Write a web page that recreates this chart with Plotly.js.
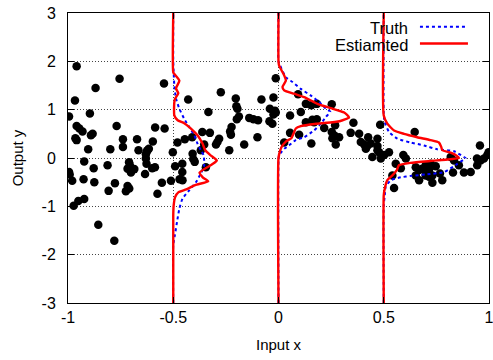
<!DOCTYPE html>
<html><head><meta charset="utf-8">
<script src="https://cdn.plot.ly/plotly-3.0.1.min.js"></script>
<style>html,body{margin:0;padding:0;background:#fff}#chart{width:493px;height:360px}</style>
</head><body><div id="chart"></div>
<script>
// Scatter samples
const pointsX = [-0.959,-0.755,-0.869,-0.544,-0.967,-0.429,-0.995,-0.896,-0.959,-0.946,-0.931,-0.769,-0.586,-0.541,-0.965,-0.959,-0.891,-0.883,-0.739,-0.672,-0.597,-0.480,-0.445,-0.410,-0.362,-0.353,-0.904,-0.799,-0.739,-0.665,-0.622,-0.625,-0.616,-0.630,-0.502,-0.408,-0.369,-0.923,-0.995,-0.992,-0.980,-0.878,-0.812,-0.710,-0.706,-0.717,-0.685,-0.701,-0.630,-0.627,-0.634,-0.600,-0.587,-0.491,-0.457,-0.405,-0.398,-0.457,-0.470,-0.456,-0.511,-0.554,-0.926,-0.875,-0.777,-0.807,-0.717,-0.725,-0.709,-0.575,-0.923,-0.951,-0.973,-0.856,-0.780,
 -0.013,-0.274,-0.203,-0.081,-0.024,-0.200,-0.195,-0.333,-0.041,-0.017,-0.013,-0.024,-0.188,-0.198,-0.139,-0.119,-0.097,-0.043,-0.029,-0.223,-0.230,-0.226,-0.326,-0.282,-0.290,-0.297,-0.100,-0.163,-0.234,0.093,0.130,0.156,0.182,0.253,0.055,0.106,0.161,0.182,0.169,0.130,0.217,0.269,0.253,0.264,0.288,0.256,0.055,0.098,0.027,0.156,0.272,-0.345,
 0.356,0.483,0.647,0.343,0.383,0.426,0.470,0.391,0.407,0.422,0.438,0.470,0.415,0.957,0.470,0.446,0.486,0.502,0.525,0.478,0.593,0.605,0.557,0.581,0.541,0.549,0.652,0.668,0.683,0.699,0.715,0.699,0.715,0.731,0.652,0.668,0.731,0.767,0.778,0.723,0.747,0.818,0.834,0.857,0.829,0.881,0.913,0.944,0.960,0.976,0.992,0.998,0.943];
const pointsY = [1.90,1.64,1.45,1.54,1.19,1.21,0.86,0.92,0.66,0.61,0.55,0.66,0.63,0.61,0.41,0.37,0.47,0.50,0.39,0.39,0.34,0.32,0.39,0.43,0.54,0.28,0.18,0.18,0.23,0.16,0.16,0.14,0.19,0.08,0.12,0.09,0.16,-0.07,-0.29,-0.34,-0.47,-0.21,-0.15,-0.09,-0.15,-0.22,-0.23,-0.30,-0.01,-0.12,-0.33,-0.21,-0.19,-0.17,-0.12,-0.02,-0.08,-0.29,-0.44,-0.46,-0.47,-0.51,-0.44,-0.50,-0.52,-0.68,-0.58,-0.69,-0.63,-0.74,-0.85,-0.89,-0.99,-1.38,-1.71,
 1.65,1.36,1.23,1.21,1.25,1.07,1.02,0.95,1.02,0.98,0.94,0.90,0.86,0.80,0.83,0.80,0.78,0.76,0.71,0.64,0.55,0.48,0.52,0.40,0.33,0.28,0.43,0.28,0.16,1.32,1.12,1.09,1.12,1.11,0.88,0.95,0.79,0.80,0.74,0.74,0.62,0.68,0.54,0.47,0.43,0.41,0.52,0.48,0.32,0.30,0.28,-0.19,
 0.73,0.69,0.54,0.52,0.50,0.43,0.40,0.33,0.28,0.25,0.30,0.25,0.19,0.26,0.16,0.02,-0.01,0.06,0.12,0.12,0.06,-0.01,-0.12,-0.21,-0.36,-0.62,-0.19,-0.25,-0.22,-0.15,-0.25,-0.36,-0.39,-0.36,-0.36,-0.46,-0.51,-0.32,-0.46,-0.12,-0.17,0.02,-0.05,-0.15,-0.30,-0.30,-0.29,-0.15,-0.05,-0.01,0.06,0.12,-0.01];

// Conditional density slices at these inputs
const sliceX = [-0.5, 0, 0.5];
// Truth densities (offset along x) at each slice
const truthY = [
 [-3,-1.80,-1.59,-1.32,-1.05,-0.84,-0.67,-0.50,-0.32,-0.15,0.06,0.16,0.30,0.47,0.64,0.81,1.02,1.23,1.50,1.78,2.0,3],
 [-3,-0.05,0.06,0.19,0.26,0.37,0.43,0.57,0.71,0.85,0.96,1.02,1.16,1.29,1.43,1.57,1.67,1.91,2.0,3],
 [-3,-0.98,-0.77,-0.60,-0.46,-0.40,-0.37,-0.34,-0.29,-0.12,0.0,0.02,0.14,0.18,0.26,0.32,0.40,0.54,0.74,0.92,3]
];
const truthD = [
 [0,0,0.008,0.018,0.029,0.044,0.076,0.108,0.131,0.147,0.144,0.131,0.115,0.100,0.076,0.052,0.029,0.013,0.005,0.002,0,0],
 [0,0,0.003,0.027,0.050,0.082,0.122,0.169,0.201,0.225,0.246,0.225,0.193,0.154,0.106,0.067,0.035,0.008,0,0],
 [0,0,0.005,0.009,0.033,0.081,0.130,0.200,0.287,0.350,0.389,0.381,0.334,0.254,0.191,0.128,0.065,0.025,0.005,0,0]
];
// Estimated densities
const estY = [
 [-3,-1.19,-0.98,-0.81,-0.71,-0.65,-0.56,-0.48,-0.40,-0.30,-0.13,-0.05,0.06,0.16,0.30,0.47,0.61,0.72,0.78,0.88,1.15,1.23,1.34,1.44,1.60,1.74,1.77,3],
 [-3,0.0,0.16,0.26,0.34,0.41,0.50,0.61,0.66,0.71,0.76,0.84,0.94,1.03,1.12,1.26,1.33,1.40,1.47,1.60,1.71,1.91,2.0,3],
 [-3,-0.77,-0.63,-0.46,-0.36,-0.25,-0.15,-0.10,-0.05,0.0,0.04,0.11,0.16,0.23,0.32,0.37,0.43,0.50,0.57,0.71,0.88,3]
];
const estD = [
 [0,0,0.002,0.009,0.024,0.062,0.104,0.166,0.140,0.125,0.185,0.207,0.176,0.152,0.139,0.115,0.084,0.052,0.021,0.005,0.005,0.009,0.024,0.013,0.029,0.005,0,0],
 [0,0,0.008,0.019,0.035,0.061,0.071,0.082,0.106,0.185,0.290,0.335,0.312,0.249,0.185,0.122,0.074,0.027,0.019,0.035,0.027,0.003,0,0],
 [0,0,0.005,0.017,0.041,0.062,0.072,0.128,0.255,0.357,0.349,0.318,0.278,0.273,0.262,0.222,0.159,0.096,0.049,0.017,0,0]
];
const xTicks = [-1,-0.5,0,0.5,1];
const yTicks = [-3,-2,-1,0,1,2,3];

const traces = [{
  x: pointsX, y: pointsY, type: 'scatter', mode: 'markers',
  marker: {color: '#000', size: 8.5}, showlegend: false, hoverinfo: 'skip'
}];
sliceX.forEach((s, i) => {
  traces.push({x: truthD[i].map(d => s + d), y: truthY[i], type: 'scatter', mode: 'lines',
    line: {color: '#0000ff', width: 2, dash: 'dot', shape: 'spline', smoothing: 0.5}, showlegend: false});
});
sliceX.forEach((s, i) => {
  traces.push({x: estD[i].map(d => s + d), y: estY[i], type: 'scatter', mode: 'lines',
    line: {color: '#ff0000', width: 2.4, shape: 'spline', smoothing: 0.5}, showlegend: false});
});

const axisCommon = {
  showline: true, linecolor: '#000', linewidth: 1, mirror: 'ticks',
  ticks: 'inside', ticklen: 6, tickcolor: '#000',
  showgrid: true, gridcolor: '#444', griddash: '1px,2px', gridwidth: 1,
  zeroline: false, ticklabeloverflow: 'allow',
  tickfont: {family: 'Liberation Sans, Arial, sans-serif', size: 16, color: '#000'}
};

const layout = {
  width: 493, height: 360,
  margin: {l: 68, r: 4, t: 13, b: 57},
  paper_bgcolor: '#fff', plot_bgcolor: '#fff',
  font: {family: 'Liberation Sans, Arial, sans-serif', size: 15, color: '#000'},
  xaxis: Object.assign({}, axisCommon, {range: [-1, 1], tickvals: xTicks, ticktext: xTicks.map(String),
    title: {text: 'Input x', font: {size: 15}, standoff: 14}}),
  yaxis: Object.assign({}, axisCommon, {range: [-3, 3], tickvals: yTicks, ticktext: yTicks.map(String),
    ticklabelstandoff: 8,
    title: {text: 'Output y', font: {size: 15}, standoff: 14}}),
  showlegend: false,
  annotations: [
    {xref: 'paper', yref: 'paper', x: 0.812, y: 0.950, xanchor: 'right', yanchor: 'middle', text: 'Truth', showarrow: false, font: {size: 16.5}},
    {xref: 'paper', yref: 'paper', x: 0.812, y: 0.890, xanchor: 'right', yanchor: 'middle', text: 'Estiamted', showarrow: false, font: {size: 16.5}}
  ],
  shapes: [
    {type: 'line', xref: 'paper', yref: 'paper', x0: 0.836, x1: 0.950, y0: 0.953, y1: 0.953, line: {color: '#0000ff', width: 2, dash: 'dot'}},
    {type: 'line', xref: 'paper', yref: 'paper', x0: 0.836, x1: 0.950, y0: 0.895, y1: 0.895, line: {color: '#ff0000', width: 2.4}}
  ]
};
Plotly.newPlot('chart', traces, layout, {staticPlot: true, displayModeBar: false});
</script></body></html>
